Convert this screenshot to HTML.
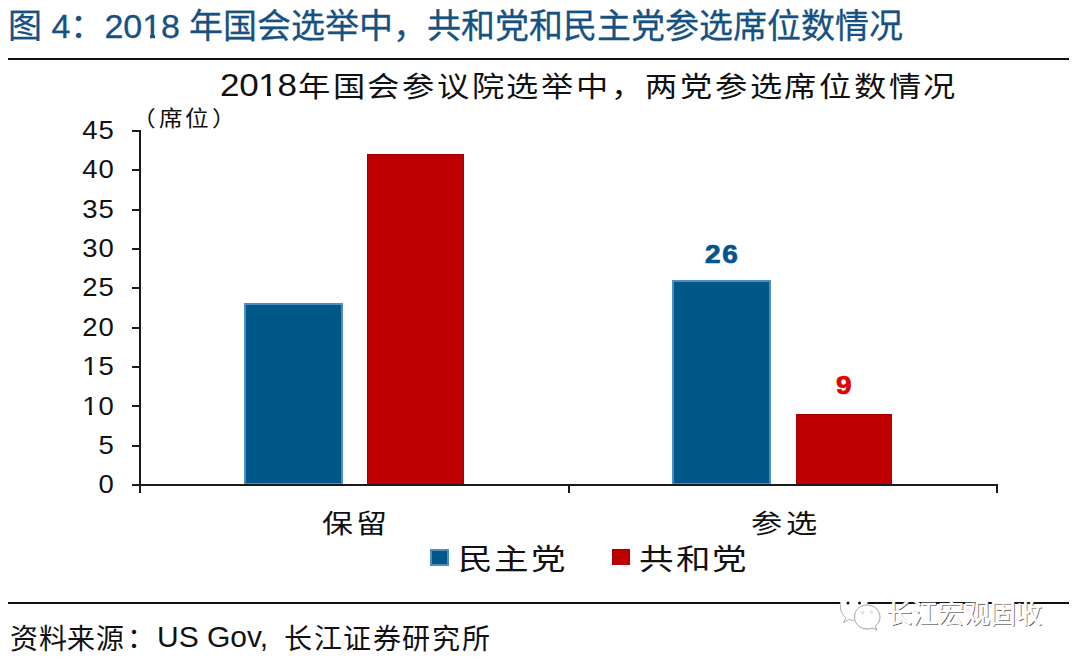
<!DOCTYPE html>
<html lang="zh-CN"><head><meta charset="utf-8">
<style>
html,body{margin:0;padding:0;background:#fff;}
body{width:1080px;height:661px;position:relative;overflow:hidden;font-family:"Liberation Sans",sans-serif;color:#111;}
.a{position:absolute;white-space:nowrap;line-height:1;}
.dg{display:inline-block;transform:none;}
.hr{position:absolute;background:#111;z-index:2;}
.bar{position:absolute;box-sizing:border-box;}
.blue{background:#005888;border:2px solid #4f8cc0;}
.red{background:#be0000;border:1px solid #a00000;border-bottom:none;}
.yl{position:absolute;font-size:25px;line-height:1;color:#111;width:60px;text-align:right;left:54.7px;letter-spacing:1px;transform:scaleX(1.1);transform-origin:right top;}
.tick{position:absolute;z-index:2;left:132px;width:8px;height:2px;background:#1a1a1a;}
</style></head><body>
<div class="a" id="t1" style="left:8px;top:9px;font-size:34px;color:#165182;-webkit-text-stroke:0.3px #165182;">图 <span class="dg">4</span>：<span class="dg">2018</span> 年国会选举中，共和党和民主党参选席位数情况</div>
<div class="hr" style="left:8px;top:58px;width:1061px;height:2px;"></div>
<div class="a" id="c1" style="left:220px;top:70px;font-size:31px;letter-spacing:-0.3px;transform:scaleX(1.13);transform-origin:left top;">2018</div>
<div class="a" id="c2" style="left:298px;top:73px;font-size:28.5px;letter-spacing:1.75px;transform:scaleX(1.13);transform-origin:left top;font-weight:300;">年国会参议院选举中，两党参选席位数情况</div>
<div class="a" id="unit" style="left:132px;top:108.5px;font-size:21.5px;letter-spacing:2.1px;transform:scaleX(1.1);transform-origin:left top;">（席位）</div>

<!-- axes -->
<div class="hr" style="left:139px;top:130px;width:2px;height:363px;background:#1a1a1a;"></div>
<div class="hr" style="left:139px;top:484px;width:859px;height:2px;background:#1a1a1a;"></div>
<div class="tick" style="top:130px"></div>
<div class="tick" style="top:169px"></div>
<div class="tick" style="top:209px"></div>
<div class="tick" style="top:248px"></div>
<div class="tick" style="top:287px"></div>
<div class="tick" style="top:327px"></div>
<div class="tick" style="top:366px"></div>
<div class="tick" style="top:405px"></div>
<div class="tick" style="top:445px"></div>
<div class="tick" style="top:484px"></div>
<div class="hr" style="left:568px;top:484px;width:2px;height:9px;background:#1a1a1a;"></div>
<div class="hr" style="left:996px;top:484px;width:2px;height:9px;background:#1a1a1a;"></div>
<div class="yl" id="y45" style="top:117.8px">45</div>
<div class="yl" style="top:157.2px">40</div>
<div class="yl" style="top:196.6px">35</div>
<div class="yl" style="top:236.0px">30</div>
<div class="yl" style="top:275.4px">25</div>
<div class="yl" style="top:314.8px">20</div>
<div class="yl" style="top:354.2px">15</div>
<div class="yl" style="top:393.6px">10</div>
<div class="yl" style="top:433.0px">5</div>
<div class="yl" id="y0" style="top:472.4px">0</div>

<div class="bar blue" style="left:244px;top:303px;width:99px;height:182px;"></div>
<div class="bar red" style="left:367px;top:154px;width:97px;height:331px;"></div>
<div class="bar blue" style="left:672px;top:280px;width:99px;height:205px;"></div>
<div class="bar red" style="left:796px;top:414px;width:96px;height:71px;"></div>

<div class="a" id="v26" style="left:705px;top:242px;font-size:25px;font-weight:bold;color:#03548a;letter-spacing:1.5px;transform:scaleX(1.12);transform-origin:left top;-webkit-text-stroke:0.7px #03548a;">26</div>
<div class="a" id="v9" style="left:836px;top:373px;font-size:25px;font-weight:bold;color:#e00000;transform:scaleX(1.12);transform-origin:left top;-webkit-text-stroke:0.7px #e00000;">9</div>

<div class="a" id="cat1" style="left:322px;top:511px;font-size:26px;letter-spacing:2.7px;transform:scaleX(1.19);transform-origin:left top;">保留</div>
<div class="a" id="cat2" style="left:751px;top:510.5px;font-size:26px;letter-spacing:2.8px;transform:scaleX(1.2);transform-origin:left top;">参选</div>

<div class="bar blue" style="left:430px;top:549px;width:19px;height:17px;"></div>
<div class="a" id="leg1" style="left:458px;top:545.5px;font-size:29px;letter-spacing:1.65px;transform:scaleX(1.19);transform-origin:left top;">民主党</div>
<div class="bar red" style="left:612px;top:549px;width:18px;height:16px;"></div>
<div class="a" id="leg2" style="left:639px;top:545.5px;font-size:29px;letter-spacing:1.85px;transform:scaleX(1.19);transform-origin:left top;">共和党</div>

<div class="hr" style="left:8px;top:602px;width:1061px;height:2px;"></div>
<div class="a" id="src1" style="left:10px;top:626px;font-size:28px;letter-spacing:0.5px;">资料来源</div>
<div class="a" id="src2" style="left:127px;top:625px;font-size:28px;">：</div>
<div class="a" id="src3" style="left:157px;top:622px;font-size:30px;">US Gov,</div>
<div class="a" id="src4" style="left:284px;top:626px;font-size:28px;letter-spacing:1.6px;">长江证券研究所</div>
<svg style="position:absolute;left:830px;top:590px;z-index:3;" width="60" height="45" viewBox="830 590 60 45">
<path d="M841 602 C839 609 842 615 846 618 L843.5 622.5 L849 619.5 C851 620 852.5 620.5 854 620.5" fill="#fff" stroke="#9a9a9a" stroke-width="0.8"/>
<rect x="840.5" y="599" width="27" height="5.6" fill="#fff"/>
<circle cx="848" cy="603" r="1.5" fill="#111"/>
<circle cx="859.5" cy="603" r="1.5" fill="#111"/>
<path d="M867 605 C859.5 605 854.5 610.5 854.5 617 C854.5 624 860.5 629 867.5 629 C869.5 629 871 628.6 872.5 628 L877 630 L875 626.3 C878.3 624 880 621 880 617 C880 610.5 874.5 605 867 605 Z" fill="#fff" stroke="#8a8a8a" stroke-width="0.8"/>
<circle cx="862.6" cy="612.6" r="1.1" fill="none" stroke="#aaa" stroke-width="0.6"/>
<circle cx="871.4" cy="612.2" r="1.1" fill="none" stroke="#bbb" stroke-width="0.6"/>
</svg>
<div class="a" id="wm" style="z-index:3;left:886px;top:601px;font-size:26px;color:#fff;-webkit-text-stroke:0.6px #fff;text-shadow:1px 1px 0.6px #555,-0.5px -0.5px 0.5px #bbb;">长江宏观固收</div>
<div style="position:absolute;left:84px;top:373px;width:5px;height:2px;background:#fff;z-index:5;"></div>
<div style="position:absolute;left:92px;top:373px;width:5px;height:2px;background:#fff;z-index:5;"></div>
<div style="position:absolute;left:84px;top:413px;width:5px;height:2px;background:#fff;z-index:5;"></div>
<div style="position:absolute;left:92px;top:413px;width:5px;height:2px;background:#fff;z-index:5;"></div>
<div style="position:absolute;left:260px;top:93px;width:7px;height:3px;background:#fff;z-index:5;"></div>
<div style="position:absolute;left:271px;top:93px;width:6px;height:3px;background:#fff;z-index:5;"></div>
<div style="position:absolute;left:144px;top:35px;width:6px;height:4px;background:#fff;z-index:5;"></div>
<div style="position:absolute;left:155px;top:35px;width:5px;height:4px;background:#fff;z-index:5;"></div>
</body></html>
